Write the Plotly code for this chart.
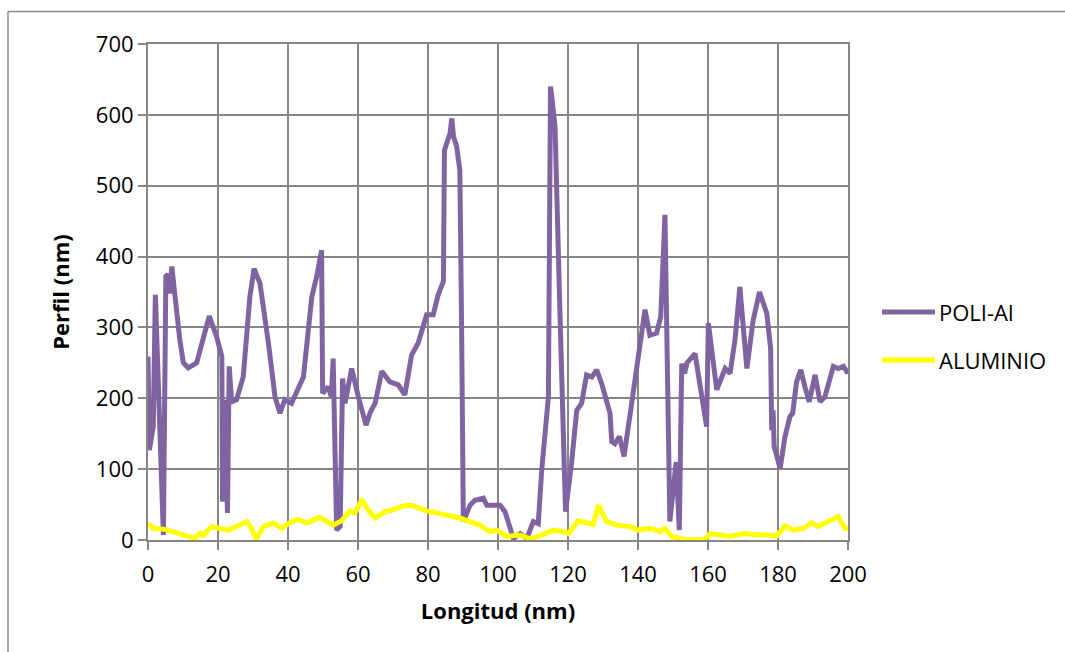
import plotly.graph_objects as go

# POLI-Al profile
poli_x = [0, 0.4, 1.5, 2.1, 4.4, 5.1, 5.7, 6.3, 6.8, 8.2, 9.1, 10.1, 11.5, 13.9, 15.8, 17.5, 19.6,
          21.1, 21.3, 22.0, 22.7, 23.2, 23.9, 25.3, 27.2, 29.1, 30.3, 32.0, 34.4, 36.3, 37.7, 39.1,
          41.0, 44.4, 46.8, 48.2, 49.6, 49.9, 51.5, 52.4, 52.9, 53.9, 54.9, 55.6, 56.3, 58.2, 60.1,
          62.3, 63.4, 64.9, 66.8, 69.1, 71.5, 73.4, 75.3, 77.2, 79.6, 81.5, 82.9, 84.4, 84.7, 86.3,
          86.8, 87.3, 88.2, 89.1, 89.6, 90.1, 92.0, 93.4, 95.8, 96.8, 100.6, 102.0, 104.4, 106.3,
          108.2, 110.1, 111.5, 112.5, 114.4, 115.0, 115.5, 116.3, 117.7, 119.3, 121.0, 122.5, 123.9,
          125.3, 126.8, 128.2, 129.6, 132.0, 132.5, 133.4, 134.7, 136.0, 138.2, 140.1, 142.0, 143.4,
          145.3, 146.5, 147.7, 149.1, 150.1, 150.9, 151.8, 152.5, 153.3, 154.0, 156.3, 157.7, 159.6,
          160.1, 162.5, 164.9, 166.3, 167.7, 169.1, 171.1, 172.9, 174.7, 176.8, 177.9, 178.2, 178.6,
          178.9, 180.6, 182.0, 183.4, 184.2, 185.3, 186.5, 187.7, 188.9, 190.6, 192.0, 193.4, 195.8,
          197.2, 198.7, 200]
poli_y = [259, 127, 160, 346, 7, 372, 375, 348, 386, 320, 282, 250, 243, 250, 287, 316, 287,
          259, 54, 198, 38, 245, 195, 198, 230, 343, 383, 362, 278, 202, 179, 198,
          193, 230, 343, 372, 409, 207, 216, 202, 256, 14, 19, 228, 193, 242, 202,
          162, 179, 193, 238, 223, 219, 205, 261, 278, 318, 318, 346, 365, 550, 574,
          595, 569, 555, 522, 301, 26, 49, 56, 59, 49, 49, 40, 2, 9,
          2, 26, 23, 99, 202, 640, 620, 583, 320, 40, 108, 183, 193,
          233, 230, 240, 221, 179, 139, 136, 146, 118, 193, 263, 325, 289,
          292, 315, 459, 26, 75, 110, 14, 249, 235, 250, 263, 216, 160,
          306, 212, 242, 235, 282, 357, 242, 310, 350, 320, 270, 155, 183,
          132, 101, 146, 174, 179, 223, 240, 216, 195, 233, 195, 202, 245,
          242, 245, 235]

# ALUMINIO profile
alu_x = [0, 1.5, 4.9, 8.2, 11.0, 13.4, 14.9, 15.8, 18.2, 20.6, 22.9, 25.3, 28.2, 29.3, 30.9, 33.0,
         35.8, 38.2, 41.0, 43.0, 45.3, 49.1, 52.9, 55.3, 57.7, 59.1, 61.1, 62.9, 64.9, 67.7, 69.6,
         72.9, 75.3, 79.6, 83.4, 89.1, 93.0, 94.9, 96.8, 97.7, 99.6, 102.5, 106.3, 109.1, 111.5,
         115.8, 118.2, 120.1, 122.9, 125.8, 127.2, 128.7, 131.0, 133.9, 137.7, 140.1, 143.4, 146.3,
         147.7, 149.6, 152.9, 157.2, 159.1, 160.6, 163.4, 166.3, 170.6, 173.9, 177.7, 179.6, 182.0,
         184.4, 187.2, 189.6, 191.5, 194.9, 197.2, 199.1, 200]
alu_y = [24, 16.5, 15, 9.4, 4.7, 2.3, 9.4, 7, 19, 16.5, 14, 19, 26, 19, 1, 19,
         24, 16.5, 26, 29, 24, 32, 21, 27, 41, 38, 57, 42, 31, 40, 42,
         48, 49, 41, 37, 31, 24, 21, 14, 12, 14, 5, 7, 2, 5,
         14, 12, 9, 27, 24, 22, 49, 26, 21, 19, 14, 16.5, 12,
         16.5, 5, 1, 0, 1, 9, 7, 5, 9, 7, 7, 6, 20,
         14, 16.5, 24, 19, 27, 33, 16.5, 16]

names = ["POLI-Al", "ALUMINIO"]
colors = ["#8064A2", "#FFFF00"]

x_ticks = list(range(0, 201, 20))
y_ticks = list(range(0, 701, 100))

FONT = "Open Sans, Calibri, sans-serif"
FS = 22
GRID = "#868686"

fig = go.Figure()
fig.add_trace(go.Scatter(x=poli_x, y=poli_y, mode="lines", name=names[0],
                         line=dict(color=colors[0], width=5), showlegend=False))
fig.add_trace(go.Scatter(x=alu_x, y=alu_y, mode="lines", name=names[1],
                         line=dict(color=colors[1], width=5), showlegend=False))

W, H = 1065, 652
L, R, T, B = 148, 217, 44, 112
pw, ph = W - L - R, H - T - B


def px2x(px):
    return (px - L) / pw


def py2y(py):
    return (H - B - py) / ph


shapes = []
annotations = []
# legend (manual)
for i, (nm, col) in enumerate(zip(names, colors)):
    yy = py2y(312 + 48 * i)
    shapes.append(dict(type="line", xref="paper", yref="paper",
                       x0=px2x(882), x1=px2x(935), y0=yy, y1=yy,
                       line=dict(color=col, width=5)))
    annotations.append(dict(xref="paper", yref="paper", x=px2x(937), y=yy,
                            xanchor="left", yanchor="middle", text=nm, showarrow=False,
                            font=dict(family=FONT, size=FS, color="#000000")))

# outer chart border (top & left visible)
shapes.append(dict(type="line", xref="paper", yref="paper",
                   x0=px2x(8), x1=px2x(1070), y0=py2y(11.5), y1=py2y(11.5),
                   line=dict(color="#8c8c8c", width=1.5)))
shapes.append(dict(type="line", xref="paper", yref="paper",
                   x0=px2x(8), x1=px2x(8), y0=py2y(11.5), y1=py2y(660),
                   line=dict(color="#8c8c8c", width=1.5)))

fig.update_layout(
    width=W, height=H,
    margin=dict(l=L, r=R, t=T, b=B, pad=0),
    paper_bgcolor="white", plot_bgcolor="white",
    font=dict(family=FONT, size=FS, color="#000000"),
    shapes=shapes, annotations=annotations,
    xaxis=dict(range=[0, 200], tickvals=x_ticks, ticktext=[str(v) for v in x_ticks],
               showgrid=True, gridcolor=GRID, gridwidth=2,
               showline=True, linecolor=GRID, linewidth=2, mirror=True,
               ticks="outside", ticklen=8, tickcolor=GRID, tickwidth=2,
               ticklabelstandoff=6,
               zeroline=False, tickfont=dict(family=FONT, size=FS),
               title=dict(text="<b>Longitud (nm)</b>", font=dict(family=FONT, size=FS), standoff=16)),
    yaxis=dict(range=[0, 700], tickvals=y_ticks, ticktext=[str(v) for v in y_ticks],
               showgrid=True, gridcolor=GRID, gridwidth=2,
               showline=True, linecolor=GRID, linewidth=2, mirror=True,
               ticks="outside", ticklen=8, tickcolor=GRID, tickwidth=2,
               zeroline=False, tickfont=dict(family=FONT, size=FS),
               title=dict(text="<b>Perfil (nm)</b>", font=dict(family=FONT, size=FS), standoff=20)),
)

fig.write_html("out.html")
